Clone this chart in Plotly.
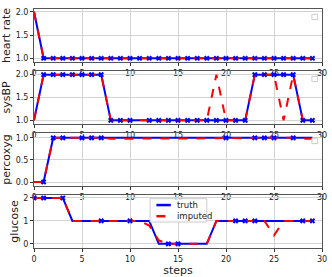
import plotly.graph_objects as go

steps = list(range(30))

hr_truth = [2] + [1] * 29
hr_imputed = [2] + [1] * 29
hr_obs = list(range(1, 30))

sbp_truth = [1, 2, 2, 2, 2, 2, 2, 2, 1, 1, 1, 1, 1, 1, 1, 1, 1, 1, 1, 1, 1, 1, 1, 2, 2, 2, 2, 2, 1, 1]
sbp_imputed = [1, 2, 2, 2, 2, 2, 2, 2, 1, 1, 1, 1, 1, 1, 1, 1, 1, 1, 1, 2, 1, 1, 1, 2, 2, 2, 1, 2, 1, 1]
sbp_obs = [1, 2, 3, 4, 5, 6, 7, 8, 9, 10, 12, 13, 14, 15, 16, 17, 18, 19, 20, 21, 22, 23, 24, 25, 26, 27, 28, 29]

po_truth = [0, 0] + [1] * 28
po_imputed = [0, 0, 1, 1, 1, 1, 1, 1, 0.98, 0.98, 0.98, 0.98, 0.99, 0.99, 0.99, 0.99, 0.99, 0.99, 0.99, 0.99,
              1, 0.99, 0.99, 1, 1, 1, 0.99, 1, 0.98, 0.98]
po_obs = [1, 2, 3, 5, 6, 7, 20, 23, 24, 25, 27]

gl_truth = [2, 2, 2, 2, 1, 1, 1, 1, 1, 1, 1, 1, 1, 0, 0, 0, 0, 0, 0, 1, 1, 1, 1, 1, 1, 1, 1, 1, 1, 1]
gl_imputed = [2, 2, 2, 2, 1, 1, 1, 1, 1, 1, 1, 1, 0.8, 0.15, 0, 0, 0, 0, 0, 1, 1, 1, 1, 1, 1, 0.37, 1, 1, 1, 1]
gl_obs = [0, 1, 3, 7, 10, 14, 15, 21, 22, 23, 28, 29]

legend_names = ["truth", "imputed"]

panels = [
    ("heart rate", hr_truth, hr_imputed, hr_obs, [0.92, 2.06], [1.0, 1.5, 2.0], ["1.0", "1.5", "2.0"]),
    ("sysBP", sbp_truth, sbp_imputed, sbp_obs, [0.92, 2.08], [1.0, 1.5, 2.0], ["1.0", "1.5", "2.0"]),
    ("percoxyg", po_truth, po_imputed, po_obs, [-0.09, 1.11], [0.0, 0.5, 1.0], ["0.0", "0.5", "1.0"]),
    ("glucose", gl_truth, gl_imputed, gl_obs, [-0.18, 2.13], [0, 1, 2], ["0", "1", "2"]),
]

BLUE = "#0000ff"
RED = "#ff0000"
FONT = "DejaVu Sans"
TXT = "#222222"

fig = go.Figure()

H = 53 / 239
G = 9 / 239
domains = []
for i in range(4):
    top = 1 - i * (H + G)
    domains.append([max(0.0, round(top - H, 4)), min(1.0, round(top, 4))])

for i, (name, truth, imp, obs, yr, tv, tt) in enumerate(panels):
    k = "" if i == 0 else str(i + 1)
    xa, ya = "x" + k, "y" + k
    fig.add_trace(go.Scatter(x=steps, y=truth, mode="lines", line=dict(color=BLUE, width=2),
                             name=legend_names[0], showlegend=False, xaxis=xa, yaxis=ya))
    fig.add_trace(go.Scatter(x=steps, y=imp, mode="lines", line=dict(color=RED, width=2, dash="dash"),
                             name=legend_names[1], showlegend=False, xaxis=xa, yaxis=ya))
    fig.add_trace(go.Scatter(x=obs, y=[truth[j] for j in obs], mode="markers",
                             marker=dict(symbol="x", color=BLUE, size=5, line=dict(width=0)),
                             showlegend=False, xaxis=xa, yaxis=ya, hoverinfo="skip"))
    axcommon = dict(showline=True, mirror=True, linecolor="#555555", linewidth=1,
                    ticks="outside", ticklen=3, tickcolor="#333333", tickwidth=1,
                    showgrid=True, gridcolor="#d3d3d3", gridwidth=1, zeroline=False, automargin=False,
                    tickfont=dict(family=FONT, size=8, color=TXT))
    fig.layout["xaxis" + k] = dict(domain=[0, 1], anchor=ya, range=[0, 30], tickvals=[0, 5, 10, 15, 20, 25, 30],
                                   ticktext=["0", "5", "10", "15", "20", "25", "30"], **axcommon)
    fig.layout["yaxis" + k] = dict(domain=domains[i], anchor=xa, range=yr, tickvals=tv, ticktext=tt,
                                   title=dict(text=name, font=dict(family=FONT, size=11, color=TXT), standoff=2),
                                   **axcommon)
    if i < 3:
        # empty legend box drawn by the original in the upper right corner
        fig.add_shape(type="rect", xref=xa + " domain", yref=ya + " domain",
                      x0=0.965, x1=0.985, y0=0.80, y1=0.90, line=dict(color="#cccccc", width=1),
                      fillcolor="white")

fig.layout["xaxis4"]["title"] = dict(text="steps", font=dict(family=FONT, size=11, color=TXT), standoff=2)

# legend of the glucose panel (compact, matplotlib-like)
fig.add_shape(type="rect", xref="x4 domain", yref="y4 domain", x0=0.403, x1=0.600, y0=0.49, y1=0.93,
              line=dict(color="#cccccc", width=1), fillcolor="rgba(255,255,255,0.85)")
fig.add_shape(type="line", xref="x4 domain", yref="y4 domain", x0=0.425, x1=0.475, y0=0.81, y1=0.81,
              line=dict(color=BLUE, width=2.5))
fig.add_shape(type="line", xref="x4 domain", yref="y4 domain", x0=0.425, x1=0.475, y0=0.60, y1=0.60,
              line=dict(color=RED, width=2.5, dash="dash"))
for name, yy in zip(legend_names, [0.81, 0.60]):
    fig.add_annotation(xref="x4 domain", yref="y4 domain", x=0.49, y=yy, text=name, showarrow=False,
                       xanchor="left", yanchor="middle", font=dict(family=FONT, size=8.5, color=TXT))

fig.update_layout(
    width=332, height=277,
    margin=dict(l=34, r=10, t=9, b=29),
    paper_bgcolor="white", plot_bgcolor="white",
    showlegend=False,
)

fig.write_html("out.html", config={"displayModeBar": False},
               post_script="document.body.style.margin='0';")
